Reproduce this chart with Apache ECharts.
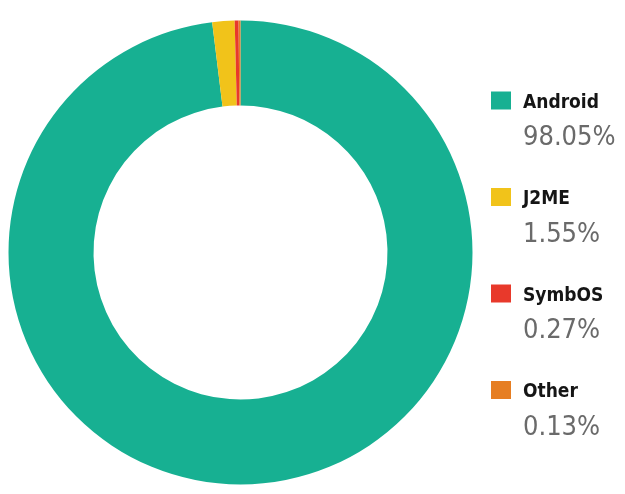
<!DOCTYPE html>
<html>
<head>
<meta charset="utf-8">
<script src="https://cdn.jsdelivr.net/npm/echarts@6/dist/echarts.min.js"></script>
<style>
  html, body { margin: 0; padding: 0; background: #ffffff; overflow: hidden; }
  #chart { width: 625px; height: 494px; }
</style>
</head>
<body>
<div id="chart"></div>
<script>
const categories = ['Android', 'J2ME', 'SymbOS', 'Other'];
const shares = [98.05, 1.55, 0.27, 0.13];
const colors = ['#17b092', '#f1c31a', '#e8392b', '#e67e22'];

const chart = echarts.init(document.getElementById('chart'), null, { renderer: 'canvas' });
const shareOf = {};
categories.forEach((c, i) => { shareOf[c] = shares[i]; });

const option = {
  animation: false,
  backgroundColor: '#ffffff',
  color: colors,
  legend: {
    orient: 'vertical',
    left: 491,
    top: 40,
    padding: 0,
    itemGap: -15,
    itemWidth: 20,
    itemHeight: 18,
    icon: 'rect',
    selectedMode: false,
    data: categories,
    formatter: function (name) {
      return '{pad|}\n{name|' + name + '}\n{val|' + shareOf[name].toFixed(2) + '%}';
    },
    textStyle: {
      rich: {
        pad: { height: 51, lineHeight: 51, fontSize: 10 },
        name: {
          fontFamily: "'DejaVu Sans Condensed', 'Liberation Sans Narrow', sans-serif",
          fontWeight: 'bold',
          fontSize: 19,
          lineHeight: 24,
          color: '#151515',
          padding: [0, 0, 0, 7]
        },
        val: {
          fontFamily: "'DejaVu Sans Condensed', 'Liberation Sans Narrow', sans-serif",
          fontWeight: 'normal',
          fontSize: 27,
          lineHeight: 46,
          color: '#6a6a6a',
          padding: [0, 0, 0, 7]
        }
      }
    }
  },
  series: [{
    type: 'pie',
    center: [240.5, 252.5],
    radius: [147, 232],
    startAngle: 90,
    clockwise: true,
    label: { show: false },
    labelLine: { show: false },
    emphasis: { disabled: true },
    itemStyle: { borderWidth: 0 },
    data: categories.map((c, i) => ({ name: c, value: shares[i] }))
  }]
};
chart.setOption(option);
</script>
</body>
</html>
